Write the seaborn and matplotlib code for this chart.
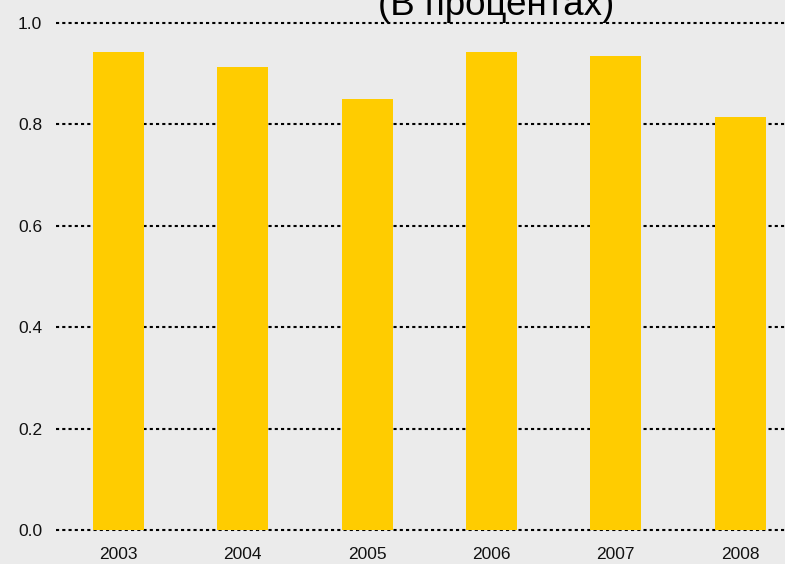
import pandas as pd
import matplotlib
matplotlib.use("Agg")
import matplotlib.pyplot as plt
import seaborn as sns

# Values
years = ["2003", "2004", "2005", "2006", "2007", "2008"]
shares = [0.943, 0.913, 0.850, 0.943, 0.935, 0.815]
yticks = [0.0, 0.2, 0.4, 0.6, 0.8, 1.0]

df = pd.DataFrame({"Year": years, "Share": shares})

sns.set_style("white")
plt.rcParams["font.family"] = ["Liberation Sans", "DejaVu Sans"]

bg = "#ebebeb"
fig = plt.figure(figsize=(7.85, 5.64), dpi=100, facecolor=bg)
ax = fig.add_axes([56 / 785, 34 / 564, 1 - 56 / 785, 507 / 564])
ax.set_facecolor(bg)

sns.barplot(data=df, x="Year", y="Share", color="#ffcc00", width=0.41,
            saturation=1, linewidth=0, ax=ax, zorder=3)

ax.set_ylim(0, 1.0)
ax.set_xlim(-0.5, 5.36)
ax.set_yticks(yticks)
ax.set_yticklabels([f"{t:.1f}" for t in yticks])
ax.yaxis.grid(True, color="black", linestyle=(0, (1.5, 1.5)), linewidth=1.5, zorder=0)
for gl in ax.get_ygridlines():
    gl.set_clip_on(False)
ax.set_axisbelow(True)
ax.tick_params(axis="both", length=0, labelsize=12.5, colors="#111111")
ax.tick_params(axis="y", pad=10)
ax.tick_params(axis="x", pad=12)
ax.set_xlabel("")
ax.set_ylabel("")
for s in ax.spines.values():
    s.set_visible(False)

# title sits at the top edge, partly cut off as in the reference
fig.text(496 / 785, 1 - 15 / 564, "(В процентах)", ha="center", va="baseline",
         fontsize=26.5, color="black")

fig.savefig("out.png", dpi=100, facecolor=bg)
